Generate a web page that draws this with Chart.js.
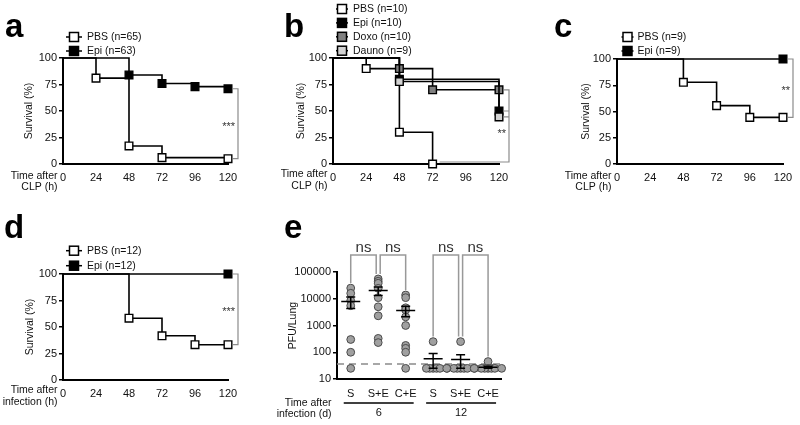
<!DOCTYPE html>
<html>
<head>
<meta charset="utf-8">
<script src="https://cdn.jsdelivr.net/npm/chart.js@4.4.1/dist/chart.umd.min.js"></script>
<style>
html, body { margin: 0; padding: 0; background: #fff; }
#wrap { position: relative; width: 800px; height: 425px; overflow: hidden; }
canvas { position: absolute; left: 0; top: 0; }
</style>
</head>
<body>
<div id="wrap">
  <canvas id="chartA" width="800" height="425"></canvas>
  <canvas id="chartB" width="800" height="425"></canvas>
  <canvas id="chartC" width="800" height="425"></canvas>
  <canvas id="chartD" width="800" height="425"></canvas>
  <canvas id="chartE" width="800" height="425"></canvas>
</div>
<script>
// survival panels (hours after CLP / infection, % alive)
const hourTicks = [0, 24, 48, 72, 96, 120];
const survTicks = [0, 25, 50, 75, 100];

const aPbsTime = [0, 24, 48, 72, 120];
const aPbsSurv = [100, 81, 17, 6, 5];
const aEpiTime = [0, 48, 72, 96, 120];
const aEpiSurv = [100, 84, 76, 73, 71];

const bPbsTime = [0, 24, 48, 72];
const bPbsSurv = [100, 90, 30, 0];
const bEpiTime = [0, 48, 120];
const bEpiSurv = [100, 80, 50];
const bDoxoTime = [0, 48, 72, 120];
const bDoxoSurv = [100, 90, 70, 70];
const bDaunoTime = [0, 48, 120];
const bDaunoSurv = [100, 77.8, 44.4];

const cPbsTime = [0, 48, 72, 96, 120];
const cPbsSurv = [100, 77.8, 55.6, 44.4, 44.4];
const cEpiTime = [0, 120];
const cEpiSurv = [100, 100];

const dPbsTime = [0, 48, 72, 96, 120];
const dPbsSurv = [100, 58.3, 41.7, 33.3, 33.3];
const dEpiTime = [0, 120];
const dEpiSurv = [100, 100];

// panel e: PFU per lung
const eGroups = ['S', 'S+E', 'C+E', 'S', 'S+E', 'C+E'];
const eDays = ['6', '12'];
const eDayGroups = [[1, 3], [4, 6]];
const eTicks = [10, 100, 1000, 10000, 100000];
const eS6 = [25000, 16000, 8500, 5500, 300, 100, 25];
const eSE6 = [55000, 45000, 38000, 24500, 11000, 5000, 2300, 330, 230];
const eCE6 = [13800, 11000, 4600, 3800, 2100, 1000, 180, 140, 100, 25];
const eS12 = [250, 25, 25, 25, 25, 25, 25];
const eSE12 = [250, 25, 25, 25, 25, 25, 25, 25];
const eCE12 = [45, 25, 25, 25, 25, 25, 25, 25];
const eLimit = 36;
const eCompare = [[1, 2], [2, 3], [4, 5], [5, 6]];

const FONT = '"Liberation Sans", Arial, sans-serif';
Chart.defaults.font.family = FONT;
Chart.defaults.font.size = 11;
Chart.defaults.color = '#111';
Chart.defaults.animation = false;
Chart.defaults.events = [];

const last = arr => arr[arr.length - 1];

const panelDecor = {
    id: 'panelDecor',
    afterDraw(chart, args, o) {
        const ctx = chart.ctx;
        const ca = chart.chartArea;
        ctx.save();
        ctx.fillStyle = '#000';
        ctx.font = 'bold 33px ' + FONT;
        ctx.textAlign = 'left';
        ctx.textBaseline = 'alphabetic';
        ctx.fillText(o.letter, o.letterX, o.letterY);

        ctx.font = '10.5px ' + FONT;
        ctx.fillStyle = '#111';
        ctx.textAlign = 'right';
        ctx.textBaseline = 'middle';
        o.xTitle.forEach((line, i) => ctx.fillText(line, ca.left - 5.5, ca.bottom + o.xTitleY[i]));

        if (o.legend) {
            const L = o.legend;
            chart.data.datasets.forEach((ds, i) => {
                const y = L.y + i * L.dy;
                ctx.strokeStyle = '#000';
                ctx.lineWidth = 1.5;
                ctx.beginPath();
                ctx.moveTo(L.x - L.half, y);
                ctx.lineTo(L.x + L.half, y);
                ctx.stroke();
                ctx.fillStyle = ds.pointBackgroundColor;
                ctx.fillRect(L.x - 4.5, y - 4.5, 9, 9);
                ctx.strokeRect(L.x - 4.5, y - 4.5, 9, 9);
                ctx.fillStyle = '#111';
                ctx.textAlign = 'left';
                ctx.fillText(ds.label, L.x + L.gap, y);
            });
        }

        if (o.sig) {
            const s = o.sig;
            const xs = chart.scales.x, ys = chart.scales.y;
            const bx = xs.getPixelForValue(120) + 10;
            const yt = ys.getPixelForValue(s.top);
            const yb = ys.getPixelForValue(s.bottom) - (s.lift || 0);
            ctx.strokeStyle = '#8c8c8c';
            ctx.lineWidth = 1.2;
            ctx.beginPath();
            ctx.moveTo(bx - 5, yt);
            ctx.lineTo(bx, yt);
            ctx.lineTo(bx, yb);
            ctx.lineTo(s.armTo != null ? xs.getPixelForValue(s.armTo) + 7 : bx - 5, yb);
            (s.arms || []).forEach(v => {
                const y = ys.getPixelForValue(v);
                ctx.moveTo(bx - 5, y);
                ctx.lineTo(bx, y);
            });
            ctx.stroke();
            ctx.fillStyle = '#333';
            ctx.font = '11px ' + FONT;
            ctx.textAlign = 'right';
            const ty = s.textAt != null ? ys.getPixelForValue(s.textAt) : (yt + yb) / 2;
            ctx.fillText(s.text, bx - 3, ty + 3);
        }
        ctx.restore();
    }
};

function kmSet(label, times, surv, fill, order) {
    return {
        label: label,
        order: order,
        data: times.map((t, i) => ({ x: t, y: surv[i] })),
        stepped: 'before',
        borderColor: '#000',
        borderWidth: 1.6,
        fill: false,
        pointStyle: 'rect',
        pointRadius: times.map((t, i) => i === 0 ? 0 : 5.4),
        pointBackgroundColor: fill,
        pointBorderColor: '#000',
        pointBorderWidth: 1.4,
        clip: false
    };
}

function survivalChart(id, datasets, p) {
    const W = p.area.left - (p.titleX - 6.3);
    return new Chart(document.getElementById(id), {
        type: 'line',
        data: { datasets: datasets },
        plugins: [panelDecor],
        options: {
            responsive: false,
            layout: {
                padding: {
                    left: p.area.left - W,
                    top: p.area.top,
                    right: 800 - p.area.right,
                    bottom: 425 - p.area.bottom - 20
                }
            },
            plugins: {
                legend: { display: false },
                tooltip: { enabled: false },
                panelDecor: p.decor
            },
            scales: {
                x: {
                    type: 'linear', min: 0, max: 120,
                    afterFit: s => { s.height = 20; },
                    afterBuildTicks: s => { s.ticks = hourTicks.map(v => ({ value: v })); },
                    grid: { display: false, drawTicks: false },
                    border: { color: '#000', width: 2 },
                    ticks: { padding: 7, maxRotation: 0, autoSkip: false }
                },
                y: {
                    min: 0, max: 100,
                    afterFit: s => { s.width = W; },
                    afterBuildTicks: s => { s.ticks = survTicks.map(v => ({ value: v })); },
                    grid: { drawOnChartArea: false, color: '#000', lineWidth: 1.5, tickLength: 4 },
                    border: { color: '#000', width: 2 },
                    ticks: { padding: 2 },
                    title: { display: true, text: 'Survival (%)', padding: 0, font: { size: 10.5 } }
                }
            }
        }
    });
}

survivalChart('chartA', [
    kmSet('PBS (n=65)', aPbsTime, aPbsSurv, '#fff', 1),
    kmSet('Epi (n=63)', aEpiTime, aEpiSurv, '#000', 0)
], {
    area: { left: 63, right: 228, top: 58, bottom: 164 }, titleX: 29,
    decor: {
        letter: 'a', letterX: 5, letterY: 37,
        xTitle: ['Time after', 'CLP (h)'], xTitleY: [12.5, 23.5],
        legend: { x: 74, y: 37, dy: 14, half: 8, gap: 13 },
        sig: { top: last(aEpiSurv), bottom: last(aPbsSurv), text: '***' }
    }
});

survivalChart('chartB', [
    kmSet('PBS (n=10)', bPbsTime, bPbsSurv, '#fff', 3),
    kmSet('Epi (n=10)', bEpiTime, bEpiSurv, '#000', 2),
    kmSet('Doxo (n=10)', bDoxoTime, bDoxoSurv, '#808080', 1),
    kmSet('Dauno (n=9)', bDaunoTime, bDaunoSurv, '#d2d2d2', 0)
], {
    area: { left: 333, right: 499, top: 58, bottom: 164 }, titleX: 301,
    decor: {
        letter: 'b', letterX: 284, letterY: 37,
        xTitle: ['Time after', 'CLP (h)'], xTitleY: [10.5, 22],
        legend: { x: 342, y: 9, dy: 13.9, half: 6, gap: 11 },
        sig: {
            top: last(bDoxoSurv), bottom: last(bPbsSurv), lift: 2,
            arms: [last(bEpiSurv), last(bDaunoSurv)], armTo: 72, text: '**', textAt: 31
        }
    }
});

survivalChart('chartC', [
    kmSet('PBS (n=9)', cPbsTime, cPbsSurv, '#fff', 1),
    kmSet('Epi (n=9)', cEpiTime, cEpiSurv, '#000', 0)
], {
    area: { left: 617, right: 783, top: 59, bottom: 164 }, titleX: 586,
    decor: {
        letter: 'c', letterX: 554, letterY: 37,
        xTitle: ['Time after', 'CLP (h)'], xTitleY: [12.5, 23.5],
        legend: { x: 627.5, y: 37, dy: 14, half: 6, gap: 10 },
        sig: { top: last(cEpiSurv), bottom: last(cPbsSurv), text: '**' }
    }
});

survivalChart('chartD', [
    kmSet('PBS (n=12)', dPbsTime, dPbsSurv, '#fff', 1),
    kmSet('Epi (n=12)', dEpiTime, dEpiSurv, '#000', 0)
], {
    area: { left: 63, right: 228, top: 274, bottom: 380 }, titleX: 30,
    decor: {
        letter: 'd', letterX: 4, letterY: 238,
        xTitle: ['Time after', 'infection (h)'], xTitleY: [10, 22],
        legend: { x: 74, y: 250.7, dy: 15, half: 8, gap: 13 },
        sig: { top: last(dEpiSurv), bottom: last(dPbsSurv), text: '***' }
    }
});

// panel e -----------------------------------------------------------
const PX_DECADE = 26.75, PX_CAT = 27.5;

// spread dots sideways only where they sit at (nearly) the same height
function swarm(values, group, step) {
    const placed = [];
    return values.map(v => {
        const py = Math.log10(v) * PX_DECADE;
        let k = 0, ox = 0;
        for (;;) {
            ox = (k % 2 === 1 ? 1 : -1) * Math.ceil(k / 2) * step;
            if (placed.every(p => Math.abs(p.py - py) > 1.5 || Math.abs(p.ox - ox) >= step)) break;
            k++;
        }
        placed.push({ ox: ox, py: py });
        return { x: group + ox / PX_CAT, y: v };
    });
}

function meanSem(vals) {
    const n = vals.length;
    const m = vals.reduce((a, b) => a + b, 0) / n;
    const sd = Math.sqrt(vals.reduce((a, b) => a + (b - m) ** 2, 0) / (n - 1));
    return { m: m, sem: sd / Math.sqrt(n) };
}

const eSeries = [eS6, eSE6, eCE6, eS12, eSE12, eCE12];

const pfuDecor = {
    id: 'pfuDecor',
    afterDatasetsDraw(chart) {
        const ctx = chart.ctx, xs = chart.scales.x, ys = chart.scales.y, ca = chart.chartArea;
        ctx.save();
        // mean +/- SEM
        ctx.strokeStyle = '#000';
        ctx.lineWidth = 1.5;
        eSeries.forEach((vals, i) => {
            const st = meanSem(vals);
            const x = xs.getPixelForValue(i + 1);
            const ym = ys.getPixelForValue(st.m);
            const y1 = ys.getPixelForValue(st.m + st.sem);
            const y0 = ys.getPixelForValue(Math.max(st.m - st.sem, 10));
            ctx.beginPath();
            ctx.moveTo(x - 9.5, ym); ctx.lineTo(x + 9.5, ym);
            ctx.moveTo(x, y1); ctx.lineTo(x, y0);
            ctx.moveTo(x - 4.5, y1); ctx.lineTo(x + 4.5, y1);
            ctx.moveTo(x - 4.5, y0); ctx.lineTo(x + 4.5, y0);
            ctx.stroke();
        });

        // comparison brackets
        const used = {};
        eCompare.forEach(c => c.forEach(g => { used[g] = (used[g] || 0) + 1; }));
        const topY = ca.top - 17;
        ctx.strokeStyle = '#999';
        ctx.lineWidth = 1.5;
        ctx.fillStyle = '#333';
        ctx.font = '15px ' + FONT;
        ctx.textAlign = 'center';
        ctx.textBaseline = 'middle';
        eCompare.forEach(([g1, g2]) => {
            const x1 = xs.getPixelForValue(g1) + (used[g1] > 1 ? 2 : 0);
            const x2 = xs.getPixelForValue(g2) - (used[g2] > 1 ? 2 : 0);
            const b1 = ys.getPixelForValue(Math.max(...eSeries[g1 - 1])) - 5;
            const b2 = ys.getPixelForValue(Math.max(...eSeries[g2 - 1])) - 5;
            ctx.beginPath();
            ctx.moveTo(x1, b1); ctx.lineTo(x1, topY); ctx.lineTo(x2, topY); ctx.lineTo(x2, b2);
            ctx.stroke();
            ctx.fillText('ns', (x1 + x2) / 2, topY - 7);
        });

        // day groups under the axis
        ctx.strokeStyle = '#000';
        ctx.fillStyle = '#111';
        ctx.font = '11px ' + FONT;
        eDayGroups.forEach(([g1, g2], i) => {
            const x1 = xs.getPixelForValue(g1) - 7, x2 = xs.getPixelForValue(g2) + 8;
            ctx.beginPath();
            ctx.moveTo(x1, ca.bottom + 24); ctx.lineTo(x2, ca.bottom + 24);
            ctx.stroke();
            ctx.fillText(eDays[i], (x1 + x2) / 2, ca.bottom + 34);
        });
        ctx.restore();
    }
};

const eArea = { left: 337, right: 501.8, top: 272, bottom: 379 };
const eW = eArea.left - (293 - 6.3);

new Chart(document.getElementById('chartE'), {
    type: 'scatter',
    data: {
        datasets: eSeries.map((vals, i) => ({
            data: swarm(vals, i + 1, 3.4),
            pointRadius: 3.9,
            pointBackgroundColor: '#a0a0a0',
            pointBorderColor: '#4a4a4a',
            pointBorderWidth: 1,
            clip: false
        })).concat([{
            type: 'line',
            data: [{ x: 0.5, y: eLimit }, { x: 6.5, y: eLimit }],
            borderColor: '#8a8a8a',
            borderWidth: 1.5,
            borderDash: [7, 5],
            pointRadius: 0,
            order: 10
        }])
    },
    plugins: [panelDecor, pfuDecor],
    options: {
        responsive: false,
        layout: {
            padding: {
                left: eArea.left - eW,
                top: eArea.top,
                right: 800 - eArea.right,
                bottom: 425 - eArea.bottom - 20
            }
        },
        plugins: {
            legend: { display: false },
            tooltip: { enabled: false },
            panelDecor: {
                letter: 'e', letterX: 284, letterY: 238,
                xTitle: ['Time after', 'infection (d)'], xTitleY: [24, 35]
            }
        },
        scales: {
            x: {
                type: 'linear', min: 0.5, max: 6.5,
                afterFit: s => { s.height = 20; },
                afterBuildTicks: s => { s.ticks = eGroups.map((g, i) => ({ value: i + 1 })); },
                grid: { display: false, drawTicks: false },
                border: { color: '#000', width: 2 },
                ticks: { padding: 8, maxRotation: 0, autoSkip: false, callback: (v, i) => eGroups[i] }
            },
            y: {
                type: 'logarithmic', min: 10, max: 100000,
                afterFit: s => { s.width = eW; },
                afterBuildTicks: s => { s.ticks = eTicks.map(v => ({ value: v })); },
                grid: { drawOnChartArea: false, color: '#000', lineWidth: 1.5, tickLength: 4 },
                border: { color: '#000', width: 2 },
                ticks: { padding: 2, callback: v => String(v) },
                title: { display: true, text: 'PFU/Lung', padding: 0, font: { size: 10.5 } }
            }
        }
    }
});
</script>
</body>
</html>
